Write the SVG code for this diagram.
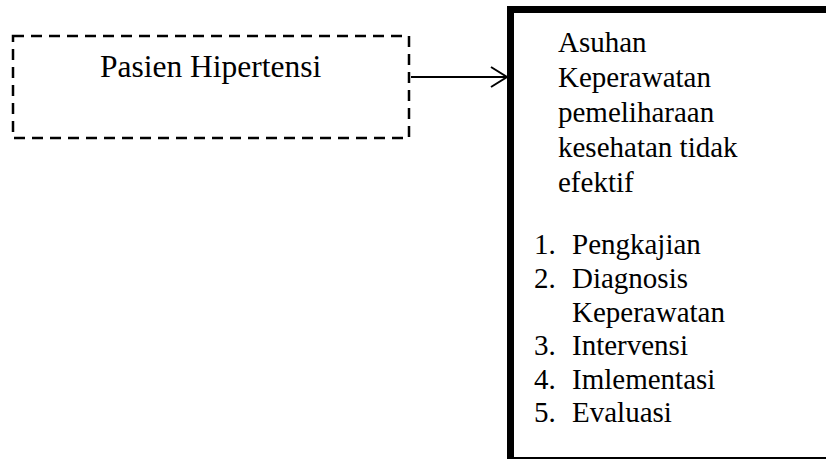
<svg xmlns="http://www.w3.org/2000/svg" width="826" height="459" viewBox="0 0 826 459">
<style>
text{font-family:"Liberation Serif","Times New Roman",serif;fill:#000}
.t{font-size:29px}
</style>
<defs>
<marker id="arr" markerWidth="20" markerHeight="24" refX="17" refY="11" orient="auto" markerUnits="userSpaceOnUse">
<path d="M1,1 L17,11 L1,21" fill="none" stroke="#000" stroke-width="2"/>
</marker>
</defs>
<rect width="826" height="459" fill="#fff"/>
<g id="pasien">
<rect x="13" y="36" width="396" height="102" fill="none" stroke="#000" stroke-width="2.5" stroke-dasharray="11,7"/>
<text x="100" y="76.5" font-size="31.5">Pasien Hipertensi</text>
</g>
<g id="asuhan">
<rect x="510.5" y="9.5" width="330" height="451" fill="none" stroke="#000" stroke-width="7"/>
<text class="t" x="558" y="51.5">Asuhan</text>
<text class="t" x="558" y="86.5">Keperawatan</text>
<text class="t" x="558" y="121.5">pemeliharaan</text>
<text class="t" x="558" y="156.5">kesehatan tidak</text>
<text class="t" x="558" y="191.5">efektif</text>
<text class="t" x="534" y="253.5">1.</text><text class="t" x="572" y="253.5">Pengkajian</text>
<text class="t" x="534" y="288">2.</text><text class="t" x="572" y="288">Diagnosis</text>
<text class="t" x="572" y="321.5">Keperawatan</text>
<text class="t" x="534" y="355">3.</text><text class="t" x="572" y="355">Intervensi</text>
<text class="t" x="534" y="388.5">4.</text><text class="t" x="572" y="388.5">Imlementasi</text>
<text class="t" x="534" y="422">5.</text><text class="t" x="572" y="422">Evaluasi</text>
</g>
<g id="connectors">
<line x1="411" y1="77" x2="507" y2="77" stroke="#000" stroke-width="2" marker-end="url(#arr)"/>
</g>
</svg>
